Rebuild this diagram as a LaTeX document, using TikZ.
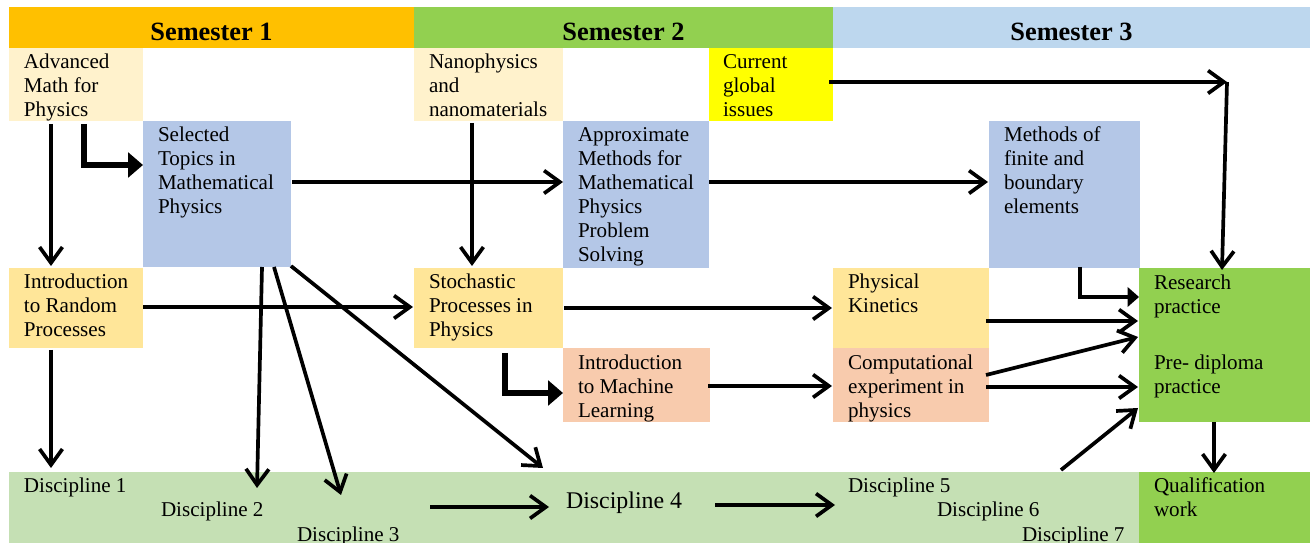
\documentclass[tikz,border=0pt]{standalone}
\usepackage{fontspec}
\setmainfont{Liberation Serif}
\usetikzlibrary{arrows.meta,calc,fit}
\definecolor{semA}{HTML}{FFC000}
\definecolor{semB}{HTML}{92D050}
\definecolor{semC}{HTML}{BDD7EE}
\definecolor{cream}{HTML}{FFF2CC}
\definecolor{bluebox}{HTML}{B4C7E7}
\definecolor{gold}{HTML}{FFE699}
\definecolor{salmon}{HTML}{F8CBAD}
\definecolor{bandcol}{HTML}{C5E0B4}
\definecolor{yel}{HTML}{FFFF00}
\newcommand\mlines[1]{\begin{tabular}[t]{@{}l@{}}#1\end{tabular}}
\tikzset{
  blk/.style={inner sep=0pt,outer sep=0pt,draw=none},
  lbl/.style={anchor=base west,inner sep=0pt,outer sep=0pt,font=\fontsize{12}{13.6}\selectfont},
  hdr/.style={anchor=base,inner sep=0pt,font=\fontsize{15}{17}\selectfont\bfseries},
  arr/.style={line width=2.1pt,-{Straight Barb[length=9pt,width=13pt]}},
  elb/.style={line width=3.2pt,-{Triangle[length=8.5pt,width=14pt]}},
}
\begin{document}
\begin{tikzpicture}[x=0.02cm,y=-0.02cm]
\useasboundingbox (0,0) rectangle (1315,543);
% headers
\node[blk,fill=semA,fit={(9,7)(414,48)}] (s1) {};
\node[blk,fill=semB,fit={(414,7)(833,48)}] (s2) {};
\node[blk,fill=semC,fit={(833,7)(1310,48)}] (s3) {};
\node[hdr] (s1t) at ($(s1.south)+(0,-7)$) {Semester 1};
\node[hdr] (s2t) at ($(s2.south)+(0,-7)$) {Semester 2};
\node[hdr] (s3t) at ($(s3.south)+(0,-7)$) {Semester 3};
% boxes
\node[blk,fill=cream,fit={(9,48)(143,121)}] (adv) {};
\node[blk,fill=cream,fit={(414,48)(563,121)}] (nano) {};
\node[blk,fill=yel,fit={(709,48)(833,121)}] (cgi) {};
\node[blk,fill=bluebox,fit={(143,121)(291,267)}] (stm) {};
\node[blk,fill=bluebox,fit={(563,121)(709,268)}] (amp) {};
\node[blk,fill=bluebox,fit={(989,121)(1140,268)}] (mfb) {};
\node[blk,fill=gold,fit={(9,268)(143,348)}] (irp) {};
\node[blk,fill=gold,fit={(414,268)(563,348)}] (spp) {};
\node[blk,fill=gold,fit={(833,268)(989,348)}] (pk) {};
\node[blk,fill=salmon,fit={(563,348)(710,422)}] (iml) {};
\node[blk,fill=salmon,fit={(833,348)(989,422)}] (cep) {};
\node[blk,fill=semB,fit={(1139,268)(1310,422)}] (rp) {};
\node[blk,fill=bandcol,fit={(9,472)(1140,543)}] (band) {};
\node[blk,fill=semB,fit={(1139,472)(1310,543)}] (qw) {};
% texts
\node[lbl] (advt) at ($(adv.north west)+(15,21)$) {\mlines{Advanced\\Math for\\Physics}};
\node[lbl] (nanot) at ($(nano.north west)+(15,21)$) {\mlines{Nanophysics\\and\\nanomaterials}};
\node[lbl] (cgit) at ($(cgi.north west)+(14,21)$) {\mlines{Current\\global\\issues}};
\node[lbl] (stmt) at ($(stm.north west)+(15,21)$) {\mlines{Selected\\Topics in\\Mathematical\\Physics}};
\node[lbl] (ampt) at ($(amp.north west)+(15,21)$) {\mlines{Approximate\\Methods for\\Mathematical\\Physics\\Problem\\Solving}};
\node[lbl] (mfbt) at ($(mfb.north west)+(15,21)$) {\mlines{Methods of\\finite and\\boundary\\elements}};
\node[lbl] (irpt) at ($(irp.north west)+(15,21)$) {\mlines{Introduction\\to Random\\Processes}};
\node[lbl] (sppt) at ($(spp.north west)+(15,21)$) {\mlines{Stochastic\\Processes in\\Physics}};
\node[lbl] (pkt) at ($(pk.north west)+(15,21)$) {\mlines{Physical\\Kinetics}};
\node[lbl] (imlt) at ($(iml.north west)+(15,22)$) {\mlines{Introduction\\to Machine\\Learning}};
\node[lbl] (cept) at ($(cep.north west)+(15,22)$) {\mlines{Computational\\experiment in\\physics}};
\node[lbl] (rpt) at ($(rp.north west)+(15,22)$) {\mlines{Research\\practice}};
\node[lbl] (pdt) at ($(rp.north west)+(15,102)$) {\mlines{Pre- diploma\\practice}};
\node[lbl] (qwt) at ($(qw.north west)+(15,21)$) {\mlines{Qualification\\work}};
\node[lbl] (d1) at (24,493) {Discipline 1};
\node[lbl] (d2) at (161,517) {Discipline 2};
\node[lbl] (d3) at (297,541) {Discipline 3};
\node[lbl,font=\fontsize{13.6}{16}\selectfont] (d4) at (566,509) {Discipline 4};
\node[lbl] (d5) at (848,493) {Discipline 5};
\node[lbl] (d6) at (937,517) {Discipline 6};
\node[lbl] (d7) at (1022,541) {Discipline 7};
% connectors
\draw[arr] ($(adv.south west)+(42,3)$) -- ($(irp.north west)+(42,-2)$);
\draw[elb] ($(adv.south west)+(75,3)$) |- ($(stm.north west)+(0,44)$);
\draw[arr] ($(stm.north east)+(1,61)$) -- ($(amp.north west)+(0,61)$);
\draw[arr] ($(amp.north east)+(0,61)$) -- ($(mfb.north west)+(-1,61)$);
\draw[arr] ($(nano.south west)+(58,2)$) -- ($(spp.north west)+(58,-2)$);
\coordinate (turn) at (1227,82);
\draw[arr] ($(cgi.north east)+(-4,34)$) -- (turn);
\draw[arr] (turn) -- ($(rp.north west)+(83,2)$);
\draw[arr] ($(irp.north east)+(0,39)$) -- ($(spp.north west)+(-1,39)$);
\draw[arr] ($(irp.south west)+(42,2)$) -- ($(band.north west)+(42,-4)$);
\draw[arr] ($(stm.south west)+(119,0)$) -- ($(band.north west)+(248,16)$);
\draw[arr] ($(stm.south west)+(131,0)$) -- ($(band.north west)+(332,23)$);
\draw[arr] ($(stm.south east)+(0,-1)$) -- ($(band.north west)+(534,-4)$);
\draw[arr] ($(spp.north east)+(1,40)$) -- ($(pk.north west)+(-1,40)$);
\draw[elb] ($(spp.south west)+(91,5)$) |- ($(iml.north west)+(0,45)$);
\draw[arr] ($(iml.north east)+(-2,38)$) -- ($(cep.north west)+(-1,38)$);
\draw[elb,line width=2.6pt,-{Triangle[length=6.5pt,width=11pt]}] ($(mfb.south west)+(91,-1)$) |- ($(rp.north west)+(0,29)$);
\draw[arr] ($(pk.north east)+(-3,53)$) -- ($(rp.north west)+(-1,53)$);
\draw[arr] ($(cep.north east)+(-3,27)$) -- ($(rp.north west)+(-1,69)$);
\draw[arr] ($(cep.north east)+(-3,39)$) -- ($(rp.north west)+(-1,119)$);
\draw[arr] ($(band.north east)+(-79,-2)$) -- ($(rp.south west)+(-1,-14)$);
\draw[arr] ($(rp.south west)+(75,0)$) -- ($(qw.north west)+(75,1)$);
\draw[arr] ($(d4.base west)+(-136,-2)$) -- ($(d4.base west)+(-17,-2)$);
\draw[arr] ($(d4.base east)+(33,-4)$) -- ($(d5.base west)+(-13,12)$);
\end{tikzpicture}
\end{document}
